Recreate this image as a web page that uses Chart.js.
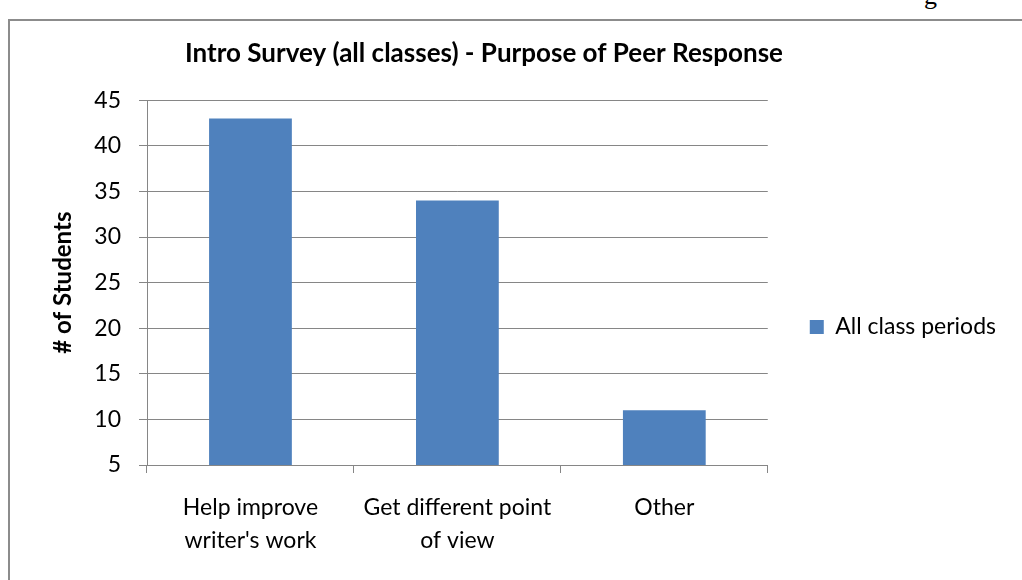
<!DOCTYPE html>
<html lang="en">
<head>
    <meta charset="UTF-8">
    <title>Intro Survey - Purpose of Peer Response</title>
    <script src="https://cdn.jsdelivr.net/npm/chart.js"></script>
    <style>
        body {
            margin: 0;
            background: #fff;
            overflow: hidden;
        }
        .frame {
            position: absolute;
            left: 8px;
            top: 19px;
            width: 1030px;
            height: 600px;
            border: 2px solid #8c8c8c;
        }
        .pageText {
            position: absolute;
            left: 924px;
            top: -19px;
            font-family: "Liberation Serif", serif;
            font-size: 26px;
            color: #000;
        }
        #chart {
            position: absolute;
            left: 0;
            top: 0;
        }
    </style>
</head>
<body>
    <span class="pageText">g</span>
    <div class="frame"></div>
    <canvas id="chart" width="1080" height="580"></canvas>
    <script>
        // chart data
        const categories = [["Help improve", "writer's work"], ["Get different point", "of view"], "Other"];
        const seriesName = 'All class periods';
        const students = [43, 34, 11];
        const yMin = 5, yMax = 45, yStep = 5;

        const fontFamily = 'Lato, "Open Sans", sans-serif';
        const labelSize = 23;
        const gridColor = '#868686';

        const canvas = document.getElementById('chart');
        const ctx = canvas.getContext('2d');

        // legend should start right after the plot (plot right edge ~768px)
        ctx.font = labelSize + 'px ' + fontFamily;
        const legendPad = 42, legendBox = 14;
        const legendWidth = legendPad + legendBox + labelSize / 2 + ctx.measureText(seriesName).width + 10;
        const rightPad = Math.max(0, Math.round(canvas.width - 768 - legendWidth));

        // Excel centres the title over the frame, not over canvas + legend
        const titleShift = {
            id: 'titleShift',
            afterLayout(chart) {
                chart.titleBlock.left = 9;
                chart.titleBlock.right = 959;
            }
        };

        new Chart(ctx, {
            type: 'bar',
            data: {
                labels: categories,
                datasets: [{
                    label: seriesName,
                    data: students,
                    backgroundColor: '#4f81bd',
                    borderWidth: 0,
                    barPercentage: 0.4,
                    categoryPercentage: 1.0
                }]
            },
            options: {
                responsive: false,
                animation: false,
                layout: {
                    padding: { left: 9, right: rightPad, top: 20, bottom: 0 }
                },
                plugins: {
                    title: {
                        display: true,
                        text: 'Intro Survey (all classes) - Purpose of Peer Response',
                        color: '#000',
                        font: { family: fontFamily, size: 26, weight: 'bold' },
                        padding: { top: 18, bottom: 31 }
                    },
                    legend: {
                        position: 'right',
                        title: {
                            display: true,
                            text: '',
                            font: { size: 20 },
                            padding: { top: 0, bottom: 30 }
                        },
                        labels: {
                            boxWidth: legendBox,
                            boxHeight: legendBox,
                            padding: legendPad,
                            color: '#000',
                            font: { family: fontFamily, size: labelSize }
                        }
                    },
                    tooltip: { enabled: false }
                },
                scales: {
                    x: {
                        afterFit: function (scale) { scale.height = 115; },
                        grid: {
                            offset: true,
                            drawOnChartArea: false,
                            drawTicks: true,
                            tickLength: 8,
                            color: gridColor
                        },
                        border: { color: gridColor },
                        ticks: {
                            color: '#000',
                            padding: 18,
                            maxRotation: 0,
                            font: { family: fontFamily, size: labelSize, lineHeight: 1.43 }
                        }
                    },
                    y: {
                        min: yMin,
                        max: yMax,
                        afterFit: function (scale) { scale.width = 138; },
                        grid: {
                            color: gridColor,
                            tickLength: 8
                        },
                        border: { color: gridColor },
                        ticks: {
                            stepSize: yStep,
                            color: '#000',
                            padding: 18,
                            font: { family: fontFamily, size: labelSize }
                        },
                        title: {
                            display: true,
                            text: '# of Students',
                            color: '#000',
                            font: { family: fontFamily, size: 24, weight: 'bold' },
                            padding: { top: 40, bottom: 0 }
                        }
                    }
                }
            },
            plugins: [titleShift]
        });
    </script>
</body>
</html>
